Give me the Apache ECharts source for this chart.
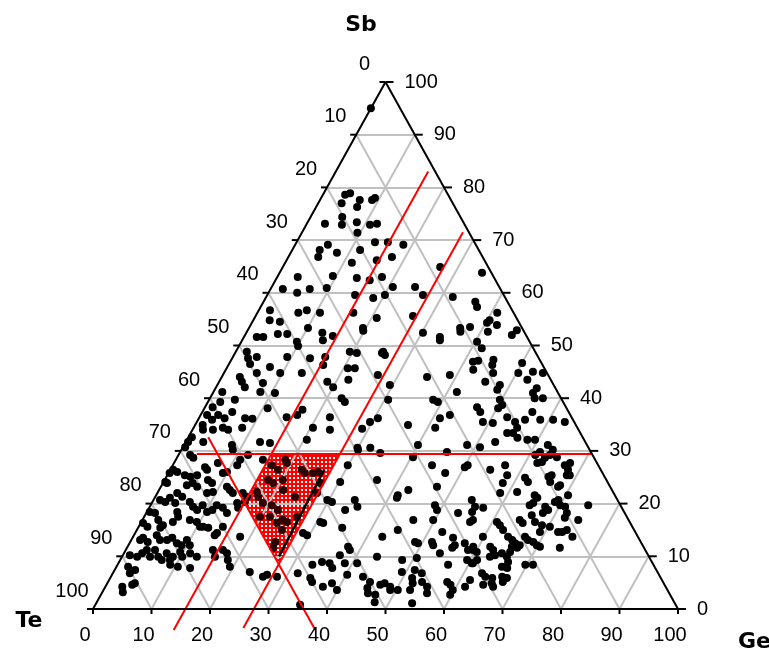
<!DOCTYPE html>
<html>
<head>
<meta charset="utf-8">
<script src="https://cdn.jsdelivr.net/npm/echarts@6/dist/echarts.min.js"></script>
<style>
html, body { margin: 0; padding: 0; background: #fff; }
#chart { width: 769px; height: 652px; }
</style>
</head>
<body>
<div id="chart"></div>
<script>
// ternary Te-Ge-Sb, values in at.%
var tickValues = [0, 10, 20, 30, 40, 50, 60, 70, 80, 90, 100];
var gridSteps = [10, 20, 30, 40, 50, 60, 70, 80, 90];

// red guide lines: one constant Sb, two constant Ge, one constant Te
var redSb = 29.5, redSbStartGe = 3;
var redGe = [15.8, 27.5];
var redGeSbRange = [[-4, 83], [-3.6, 71.5]];
var redTe = 64, redTeSbRange = [-4, 32.6];

// hatched field corners [Ge, Sb]
var hatchCorners = [[15.8, 29.5], [27.5, 29.5], [27.5, 8.5], [15.8, 20.2]];
var darkEdge = [[26.3, 26.5], [26.8, 10.0]];

// samples [Ge, Sb]
var samplePoints = [
  [3.8,78.6],[4.5,78.9],[6.8,77.6],[9.2,78.0],[4.0,77.0],[7.0,76.3],[8.9,77.6],[3.1,73.1],[5.4,74.4],[6.1,72.9],
  [8.4,73.4],[10.9,72.9],[12.0,73.1],[9.5,71.4],[13.4,69.6],[15.6,69.6],[18.5,69.1],[4.7,68.1],[5.6,69.1],[5.1,66.8],
  [7.9,67.6],[11.6,68.1],[15.4,66.2],[17.7,66.8],[11.4,65.7],[26.9,64.9],[34.6,63.8],[3.5,63.0],[9.4,63.2],[13.7,62.8],
  [16.1,62.4],[17.9,63.0],[2.1,60.7],[4.9,60.0],[6.7,60.7],[9.5,60.9],[15.0,59.6],[18.4,59.0],[20.1,59.6],[20.7,61.1],
  [24.5,61.1],[26.6,59.6],[31.9,59.2],[36.2,58.3],[37.0,57.3],[1.9,56.7],[7.0,56.2],[8.2,56.7],[10.7,56.2],[16.4,56.2],
  [20.9,55.2],[26.9,55.6],[41.0,56.2],[40.4,54.8],[2.8,54.8],[4.7,54.5],[10.1,53.3],[13.0,52.4],[19.5,53.3],[36.1,53.3],
  [37.7,53.5],[40.2,54.3],[42.1,53.9],[2.2,51.6],[3.3,51.6],[33.5,51.6],[46.0,52.9],[5.5,52.2],[7.1,52.2],[9.5,50.7],
  [10.1,49.9],[13.8,51.0],[15.1,51.8],[19.8,52.8],[1.9,48.8],[2.7,47.6],[4.1,47.8],[3.6,46.5],[9.3,47.8],[7.3,45.9],
  [13.3,47.6],[15.8,47.8],[16.2,46.3],[19.5,48.8],[20.8,48.6],[25.1,48.6],[3.1,44.0],[3.9,43.1],[4.9,42.1],[5.6,44.8],
  [7.6,42.9],[8.0,41.2],[9.6,44.8],[13.3,44.8],[18.5,43.1],[20.0,42.1],[21.9,43.5],[21.9,45.7],[20.7,45.7],[26.5,44.4],
  [1.5,41.2],[2.1,39.3],[4.4,39.7],[1.3,38.3],[10.6,41.0],[10.8,38.1],[22.5,40.0],[23.4,39.3],[1.1,36.8],[2.4,35.9],
  [3.0,36.8],[4.4,36.2],[5.1,37.4],[7.9,36.2],[9.2,36.1],[14.9,36.4],[16.5,36.8],[16.9,37.8],[22.3,36.4],[29.6,35.5],
  [30.6,36.2],[1.3,34.9],[1.8,34.0],[3.5,34.0],[5.0,34.4],[6.1,34.0],[8.3,34.4],[20.4,34.4],[23.5,34.0],[28.9,34.2],
  [0.6,32.6],[0.4,31.7],[3.0,31.7],[0.4,30.7],[8.2,31.1],[8.8,30.2],[12.7,31.7],[14.5,31.5],[20.5,32.1],[29.9,30.6],
  [32.1,30.6],[11.9,29.2],[30.2,52.4],[36.5,52.6],[41.2,52.6],[45.6,52.0],[33.8,51.0],[40.3,50.7],[41.7,49.5],[25.2,48.8],
  [25.8,48.2],[41.5,46.9],[42.3,47.1],[44.8,47.3],[45.1,46.3],[46.0,44.8],[50.0,46.7],[50.3,44.8],[52.7,45.0],[54.5,44.8],
  [35.1,44.0],[38.8,44.4],[42.3,45.4],[45.5,43.1],[48.3,42.5],[48.3,41.6],[52.5,43.5],[29.5,42.5],[54.9,41.9],[54.7,41.0],
  [55.5,40.0],[56.9,40.0],[41.6,41.2],[30.6,39.7],[38.3,39.7],[39.3,39.3],[46.5,38.3],[47.5,37.4],[49.7,39.7],[50.6,38.7],
  [50.2,38.1],[56.4,37.4],[55.9,35.9],[58.5,35.9],[60.7,35.9],[62.9,35.5],[42.6,36.8],[41.2,36.2],[48.9,35.5],[50.7,35.3],
  [52.6,36.4],[54.4,35.5],[55.3,34.4],[55.1,33.4],[54.1,33.4],[56.3,32.5],[36.4,34.9],[41.3,34.4],[58.2,32.1],[59.5,32.1],
  [52.9,31.7],[40.0,31.1],[45.6,29.8],[48.4,31.1],[50.8,30.7],[62.2,31.1],[63.5,30.2],[40.3,28.8],[2.0,29.2],[2.8,28.7],
  [6.3,26.4],[5.7,26.9],[7.5,27.7],[9.3,25.8],[9.9,26.0],[11.0,27.3],[11.0,28.3],[0.2,25.8],[0.5,26.4],[1.4,26.0],
  [0.3,24.1],[0.7,23.9],[3.0,25.4],[4.1,25.1],[5.1,25.4],[4.3,23.5],[5.1,23.9],[6.2,23.2],[7.4,24.5],[8.4,23.9],
  [9.4,22.2],[11.3,23.2],[12.9,22.0],[12.1,22.6],[8.5,22.0],[1.1,20.7],[2.2,20.3],[2.6,21.1],[3.4,22.0],[4.6,21.3],
  [4.0,20.1],[6.4,20.3],[7.4,19.4],[8.4,18.8],[8.9,19.7],[10.3,18.4],[11.0,18.8],[11.3,19.7],[12.6,19.2],[13.8,18.2],
  [14.6,20.1],[15.2,19.2],[15.8,20.3],[0.5,18.4],[1.5,18.2],[0.4,16.3],[1.5,15.6],[2.7,16.9],[3.8,15.4],[4.0,15.9],
  [5.2,18.4],[5.8,17.5],[5.4,16.5],[8.1,16.9],[9.5,16.5],[10.5,15.6],[11.0,15.6],[12.0,15.4],[13.8,14.0],[14.4,15.6],
  [1.5,13.1],[1.8,13.5],[3.0,12.7],[3.9,14.0],[4.9,13.1],[6.1,13.1],[6.8,13.5],[8.1,12.5],[9.1,12.1],[9.5,13.1],
  [10.5,12.1],[1.2,10.2],[2.6,9.9],[3.1,10.6],[3.6,11.2],[4.8,9.9],[5.0,11.2],[6.2,9.9],[7.1,9.3],[7.3,10.6],
  [8.5,9.3],[8.7,9.9],[9.5,10.8],[10.3,9.9],[11.3,10.6],[12.8,9.9],[9.0,8.4],[10.5,8.0],[12.7,7.8],[2.0,8.0],
  [2.9,6.8],[3.5,7.4],[2.9,4.2],[3.5,3.2],[4.4,4.6],[4.7,4.9],[14.9,11.2],[15.9,9.9],[16.6,11.2],[17.6,10.6],
  [18.4,9.3],[19.4,8.0],[14.0,14.4],[18.3,13.7],[23.3,7.0],[26.0,6.1],[26.5,6.5],[28.4,6.1],[14.6,22.0],[15.7,21.3],
  [14.9,28.3],[16.9,27.3],[18.4,26.4],[20.2,24.5],[17.7,24.5],[18.8,23.9],[17.6,21.3],[19.0,20.1],[20.7,19.7],[22.2,18.8],
  [21.5,17.5],[23.3,16.3],[24.0,16.9],[24.8,15.0],[24.8,12.7],[25.0,11.6],[16.9,22.2],[19.8,17.5],[18.7,28.3],[19.3,27.7],
  [21.2,22.6],[23.9,21.3],[23.9,16.9],[24.9,16.5],[26.1,17.5],[22.5,26.4],[23.3,25.8],[24.7,25.8],[25.5,26.0],[26.9,23.9],
  [27.3,22.0],[29.9,27.3],[30.2,30.2],[34.3,29.6],[36.3,24.5],[30.2,24.1],[29.7,20.7],[30.7,20.3],[33.7,18.8],[34.4,20.7],
  [35.5,19.4],[41.3,21.6],[41.4,21.1],[42.6,22.6],[44.3,27.3],[47.3,25.8],[50.1,26.9],[50.4,27.3],[47.2,23.2],[48.6,19.7],
  [49.4,18.8],[49.7,16.9],[53.3,18.2],[55.6,18.4],[56.2,16.5],[56.5,16.9],[46.3,16.9],[31.2,16.3],[30.6,16.5],[28.7,14.4],
  [29.6,14.0],[34.9,15.4],[42.6,13.7],[44.6,15.0],[52.4,14.6],[48.7,12.7],[49.3,12.5],[51.6,12.7],[52.1,12.1],[54.8,13.5],
  [55.6,11.6],[55.8,12.1],[57.3,12.5],[58.5,11.2],[59.1,11.8],[60.2,10.8],[37.7,11.8],[38.3,11.2],[37.1,10.2],[43.6,9.9],
  [54.0,10.6],[59.3,9.3],[60.6,8.7],[56.5,8.4],[33.3,8.4],[34.7,8.9],[36.1,8.7],[37.0,7.8],[38.7,8.7],[40.8,8.7],
  [48.2,9.3],[49.3,7.0],[50.5,9.7],[51.3,7.4],[52.8,6.8],[31.6,6.8],[34.2,5.9],[34.9,5.1],[37.2,4.2],[38.4,4.9],
  [39.9,3.6],[40.2,6.5],[43.1,6.1],[44.8,5.1],[44.9,4.0],[45.5,3.0],[46.9,2.7],[46.8,4.6],[47.4,4.9],[48.7,4.2],
  [49.0,3.6],[50.3,3.6],[51.6,5.9],[52.2,4.9],[52.4,3.6],[53.7,5.1],[55.0,4.2],[55.6,3.0],[54.0,1.1],[47.5,1.3],
  [58.0,5.1],[58.8,4.6],[59.7,3.6],[59.7,2.7],[61.5,4.2],[35.0,0.8],[54.7,26.4],[56.8,27.3],[58.1,25.4],[58.1,23.9],
  [61.4,24.9],[62.3,24.1],[62.1,27.7],[62.8,27.9],[62.9,28.7],[63.5,29.2],[64.9,28.8],[61.0,29.2],[61.5,29.8],[67.0,27.3],
  [67.7,27.7],[68.0,26.4],[68.3,25.4],[68.8,25.4],[65.3,25.1],[66.1,24.1],[65.7,25.4],[67.9,23.2],[68.1,23.5],[58.6,22.0],
  [61.4,22.2],[64.7,21.6],[65.4,21.1],[65.2,20.1],[64.8,19.7],[67.6,19.4],[68.4,18.8],[67.8,18.2],[68.8,20.3],[69.2,20.7],
  [70.0,19.7],[70.4,21.6],[71.0,19.4],[71.9,18.2],[72.0,17.3],[74.8,19.7],[74.5,16.9],[54.4,20.7],[55.6,19.4],[57.1,19.2],
  [60.8,16.5],[61.6,15.9],[62.6,15.0],[64.5,16.9],[65.3,16.3],[66.1,17.8],[67.3,16.5],[68.8,15.9],[69.1,14.6],[70.3,15.6],
  [72.2,14.6],[72.9,14.6],[73.5,15.0],[75.1,13.7],[74.0,11.6],[59.8,13.7],[62.0,11.8],[62.8,11.2],[64.1,13.7],[65.1,13.1],
  [65.9,12.5],[65.7,11.8],[66.7,11.6],[66.9,12.1],[67.0,13.7],[67.8,13.1],[68.9,12.7],[69.8,12.1],[70.5,11.8],[59.4,11.2],
  [62.9,9.9],[63.6,10.2],[64.6,10.6],[65.8,9.9],[66.5,8.9],[65.9,10.8],[69.7,8.4],[71.0,8.4],[60.4,8.7],[61.0,9.3],
  [65.9,8.0],[66.9,7.8],[63.1,6.8],[64.0,6.1],[65.3,5.9],[66.9,6.1],[67.5,5.1],[67.8,5.9],[64.4,4.6],[65.7,4.9],
  [66.3,4.2],[61.7,5.5],[0,95]
];

function toXY(ge, sb) { return [ge + sb / 2, sb]; }

function inHatch(ge, sb) {
    return ge >= redGe[0] && ge <= redGe[1] && sb <= redSb && (100 - ge - sb) <= redTe;
}

var gridSegs = [];
gridSteps.forEach(function (k) {
    gridSegs.push({coords: [toXY(0, k), toXY(100 - k, k)]});       // Sb = k
    gridSegs.push({coords: [toXY(k, 0), toXY(k, 100 - k)]});       // Ge = k
    gridSegs.push({coords: [toXY(100 - k, 0), toXY(0, 100 - k)]}); // Te = k
});

var frameSegs = [
    {coords: [toXY(0, 0), toXY(100, 0)]},
    {coords: [toXY(100, 0), toXY(0, 100)]},
    {coords: [toXY(0, 100), toXY(0, 0)]}
];

var redSegs = [
    {coords: [toXY(redSbStartGe, redSb), toXY(100 - redSb, redSb)]},
    {coords: [toXY(redGe[0], redGeSbRange[0][0]), toXY(redGe[0], redGeSbRange[0][1])]},
    {coords: [toXY(redGe[1], redGeSbRange[1][0]), toXY(redGe[1], redGeSbRange[1][1])]},
    {coords: [toXY(100 - redTe - redTeSbRange[0], redTeSbRange[0]), toXY(100 - redTe - redTeSbRange[1], redTeSbRange[1])]}
];

// red grid pattern for the hatched field
var tile = document.createElement('canvas');
tile.width = 4; tile.height = 4;
var tctx = tile.getContext('2d');
tctx.fillStyle = '#ff0000';
tctx.fillRect(0, 0, 4, 4);
tctx.fillStyle = '#ffffff';
tctx.fillRect(1, 1, 2, 2);

var numFont = '20px "Liberation Sans", Arial, sans-serif';
var titleFont = 'bold 22px "DejaVu Sans", sans-serif';

var chart = echarts.init(document.getElementById('chart'));
chart.setOption({
    backgroundColor: '#fff',
    animation: false,
    grid: {left: 93, top: 82, width: 585, height: 527},
    xAxis: {type: 'value', min: 0, max: 100, show: false},
    yAxis: {type: 'value', min: 0, max: 100, show: false},
    graphic: [
        {type: 'text', x: 361, y: 25, style: {text: 'Sb', font: titleFont, align: 'center', verticalAlign: 'middle', fill: '#000'}},
        {type: 'text', x: 29, y: 621, style: {text: 'Te', font: titleFont, align: 'center', verticalAlign: 'middle', fill: '#000'}},
        {type: 'text', x: 738, y: 642, style: {text: 'Ge', font: titleFont, align: 'left', verticalAlign: 'middle', fill: '#000'}}
    ],
    series: [
        {
            type: 'custom', coordinateSystem: 'cartesian2d', z: 1, silent: true, clip: false,
            data: [[0, 0]],
            renderItem: function (params, api) {
                var pts = hatchCorners.map(function (c) { return api.coord(toXY(c[0], c[1])); });
                return {type: 'polygon', shape: {points: pts}, style: {fill: {image: tile, repeat: 'repeat'}}};
            }
        },
        {
            type: 'lines', coordinateSystem: 'cartesian2d', z: 2, silent: true,
            lineStyle: {color: '#c0c0c0', width: 2, opacity: 1},
            data: gridSegs
        },
        {
            type: 'scatter', z: 3, silent: true,
            symbol: 'circle', symbolSize: 8,
            itemStyle: {
                opacity: 1,
                color: function (p) {
                    var s = samplePoints[p.dataIndex];
                    return inHatch(s[0], s[1]) ? '#2e0000' : '#000';
                }
            },
            data: samplePoints.map(function (p) { return toXY(p[0], p[1]); })
        },
        {
            type: 'custom', coordinateSystem: 'cartesian2d', z: 4, silent: true, clip: false,
            data: [[0, 0]],
            renderItem: function (params, api) {
                var e0 = api.coord(toXY(darkEdge[0][0], darkEdge[0][1]));
                var e1 = api.coord(toXY(darkEdge[1][0], darkEdge[1][1]));
                return {type: 'line', shape: {x1: e0[0], y1: e0[1], x2: e1[0], y2: e1[1]}, style: {stroke: '#000', lineWidth: 2.5}};
            }
        },
        {
            type: 'lines', coordinateSystem: 'cartesian2d', z: 5, silent: true, clip: false,
            lineStyle: {color: '#ff0000', width: 2, opacity: 1},
            data: redSegs
        },
        {
            type: 'lines', coordinateSystem: 'cartesian2d', z: 6, silent: true, clip: false,
            lineStyle: {color: '#000', width: 2, opacity: 1},
            data: frameSegs
        },
        {
            // ticks and tick labels of the three sides
            type: 'custom', coordinateSystem: 'cartesian2d', z: 7, silent: true, clip: false,
            data: tickValues.map(function (v) { return [v, 0]; }),
            renderItem: function (params, api) {
                var k = api.value(0);
                var b = api.coord(toXY(k, 0));
                var l = api.coord(toXY(0, 100 - k));
                var r = api.coord(toXY(100 - k, k));
                var ln = {stroke: '#000', lineWidth: 2};
                function txt(x, y, align) {
                    return {type: 'text', x: x, y: y, style: {text: String(k), font: numFont, align: align, verticalAlign: 'middle', fill: '#000'}};
                }
                return {
                    type: 'group',
                    children: [
                        {type: 'line', shape: {x1: b[0], y1: b[1], x2: b[0], y2: b[1] + 5}, style: ln},
                        {type: 'line', shape: {x1: l[0] - 6, y1: l[1], x2: l[0], y2: l[1]}, style: ln},
                        {type: 'line', shape: {x1: r[0], y1: r[1], x2: r[0] + 8, y2: r[1]}, style: ln},
                        txt(b[0] - 8, b[1] + 26, 'center'),
                        txt(l[0] - 21, l[1] - 18, 'center'),
                        txt(r[0] + 19, r[1], 'left')
                    ]
                };
            }
        }
    ]
});
</script>
</body>
</html>
